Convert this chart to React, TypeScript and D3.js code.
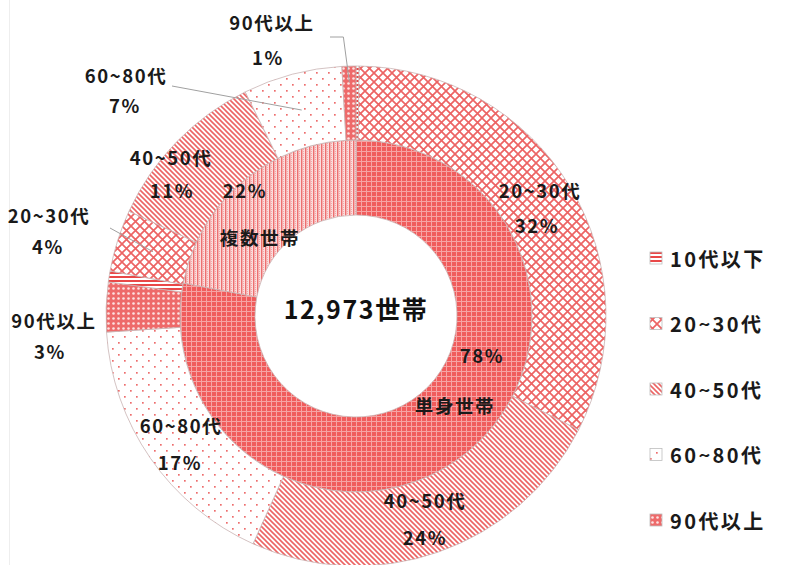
import React from "react";
import * as d3 from "d3";

// household composition (share of all households, %)
const householdTypes = ["単身世帯", "複数世帯"];
const householdShare = [78, 22];
const householdLabels = ["78%", "22%"];

// age breakdown of the head of household, per type (% of all households)
const ageGroups = ["10代以下", "20~30代", "40~50代", "60~80代", "90代以上"];
const singleByAge = [0.2, 32.3, 24.2, 17.2, 3.2];
const multiByAge = [0.7, 4.0, 10.8, 6.4, 0.9];
const singleAgeLabels = ["", "32%", "24%", "17%", "3%"];
const multiAgeLabels = ["", "4%", "11%", "7%", "1%"];

const totalLabel = "12,973世帯";

const W = 785;
const H = 565;
const cx = 356;
const cy = 316;
const rHole = 101;
const rMid = 176;
const rOuter = 250;

const RED = "#e94848";
const FONT = "'Noto Sans CJK JP', 'Noto Sans', sans-serif";
const agePatterns = ["p-teen", "p-2030", "p-4050", "p-6080", "p-90"];
const typePatterns = ["p-single", "p-multi"];

// where Excel put the outer labels (name line / percent line)
const outerLabelPos: Record<string, [number, number, number, number]> = {
  "0-1": [540, 190, 537, 225],
  "0-2": [425, 500, 425, 537],
  "0-3": [181, 425, 180, 462],
  "0-4": [54, 320, 50, 351],
  "1-1": [49, 215, 48, 246],
  "1-2": [171, 157, 172, 190],
  "1-3": [126, 75, 125, 105],
  "1-4": [272, 22, 268, 57],
};
const innerLabelPos = [
  [482, 355, 455, 405],
  [245, 190, 260, 237],
];

function Patterns() {
  return (
    <defs>
      <pattern id="p-teen" width="4" height="4" patternUnits="userSpaceOnUse">
        <rect width="4" height="4" fill="#fff" />
        <rect y="0" width="4" height="2" fill={RED} />
      </pattern>
      <pattern id="p-2030" width="9" height="9" patternUnits="userSpaceOnUse">
        <rect width="9" height="9" fill="#fff" />
        <path d="M0,0L9,9M9,0L0,9" stroke={RED} strokeWidth="1.7" opacity="0.85" />
      </pattern>
      <pattern id="p-4050" width="5" height="5" patternUnits="userSpaceOnUse">
        <rect width="5" height="5" fill="#fff" />
        <path d="M0,0L5,5M-1,4L1,6M4,-1L6,1" stroke={RED} strokeWidth="1.6" opacity="0.85" />
      </pattern>
      <pattern id="p-6080" width="12" height="12" patternUnits="userSpaceOnUse">
        <rect width="12" height="12" fill="#fff" />
        <rect x="2" y="2" width="1.7" height="1.7" fill={RED} opacity="0.8" />
        <rect x="8" y="8" width="1.7" height="1.7" fill={RED} opacity="0.8" />
      </pattern>
      <pattern id="p-90" width="5" height="5" patternUnits="userSpaceOnUse">
        <rect width="5" height="5" fill="#ee6a6a" />
        <circle cx="2.5" cy="2.5" r="1.3" fill="#fde2e2" />
      </pattern>
      <pattern id="p-single" width="5" height="5" patternUnits="userSpaceOnUse">
        <rect width="5" height="5" fill="#f05c5c" />
        <rect width="5" height="1" fill="#f6a3a3" />
        <rect width="1" height="5" fill="#f6a3a3" />
      </pattern>
      <pattern id="p-multi" width="4" height="4" patternUnits="userSpaceOnUse">
        <rect width="4" height="4" fill="#fbdcdc" />
        <rect x="1" width="1.4" height="4" fill="#ec6f6f" />
        <rect x="3" y="1" width="1" height="1" fill="#f3a8a8" />
        <rect x="3" y="3" width="1" height="1" fill="#f3a8a8" />
      </pattern>
    </defs>
  );
}

export default function App() {
  const outerData = [
    ...singleByAge.map((v, i) => ({ group: 0, age: i, value: v, label: singleAgeLabels[i] })),
    ...multiByAge.map((v, i) => ({ group: 1, age: i, value: v, label: multiAgeLabels[i] })),
  ];
  const innerData = householdShare.map((v, i) => ({ group: i, value: v }));

  const pie = d3
    .pie<{ value: number }>()
    .sort(null)
    .value((d) => d.value);
  const outerArcs = pie(outerData) as d3.PieArcDatum<(typeof outerData)[number]>[];
  const innerArcs = pie(innerData) as d3.PieArcDatum<(typeof innerData)[number]>[];

  const outerArc = d3.arc<d3.PieArcDatum<any>>().innerRadius(rMid).outerRadius(rOuter);
  const innerArc = d3.arc<d3.PieArcDatum<any>>().innerRadius(rHole).outerRadius(rMid);
  const edgeArc = d3.arc<d3.PieArcDatum<any>>().innerRadius(rOuter - 16).outerRadius(rOuter - 16);

  const labelStyle = {
    fontFamily: FONT,
    fontWeight: 700,
    fontSize: 18.5,
    letterSpacing: 1.6,
    fill: "#1a1a1a",
  } as const;

  // leader lines for the labels that sit outside the ring
  const leaders: { key: string; pts: [number, number][] }[] = [];
  outerArcs.forEach((a) => {
    const key = `${a.data.group}-${a.data.age}`;
    const c = outerArc.centroid(a);
    const e = edgeArc.centroid(a);
    if (key === "1-4") leaders.push({ key, pts: [[330, 37], [cx + e[0] - 6, 37], [cx + e[0], cy + e[1]]] });
    if (key === "1-3") leaders.push({ key, pts: [[172, 86], [cx + c[0], cy + c[1]]] });
    if (key === "1-1") leaders.push({ key, pts: [[110, 228], [cx + c[0], cy + c[1]]] });
  });

  return (
    <svg width={W} height={H} style={{ position: "absolute", left: 0, top: 0, background: "#fff" }}>
      <Patterns />
      <line x1={9.5} y1={0} x2={9.5} y2={H} stroke="#eeeeee" />
      <g transform={`translate(${cx},${cy})`}>
        {innerArcs.map((a, i) => (
          <path key={`in${i}`} d={innerArc(a) || ""} fill={`url(#${typePatterns[i]})`} stroke="#c9b4b4" strokeWidth={0.8} />
        ))}
        {outerArcs.map((a, i) => (
          <path
            key={`out${i}`}
            d={outerArc(a) || ""}
            fill={`url(#${agePatterns[a.data.age]})`}
            stroke="#c9b4b4"
            strokeWidth={0.8}
          />
        ))}
      </g>

      {leaders.map((l) => (
        <polyline key={l.key} points={l.pts.map((p) => p.join(",")).join(" ")} fill="none" stroke="#a0a0a0" strokeWidth={1} />
      ))}

      {outerArcs
        .filter((a) => a.data.label)
        .map((a) => {
          const key = `${a.data.group}-${a.data.age}`;
          const p = outerLabelPos[key];
          return (
            <g key={`lab${key}`} style={labelStyle}>
              <text x={p[0]} y={p[1]} textAnchor="middle" dominantBaseline="central">
                {ageGroups[a.data.age]}
              </text>
              <text x={p[2]} y={p[3]} textAnchor="middle" dominantBaseline="central">
                {a.data.label}
              </text>
            </g>
          );
        })}

      {innerArcs.map((a, i) => {
        const p = innerLabelPos[i];
        return (
          <g key={`il${i}`} style={labelStyle}>
            <text x={p[0]} y={p[1]} textAnchor="middle" dominantBaseline="central">
              {householdLabels[i]}
            </text>
            <text x={p[2]} y={p[3]} textAnchor="middle" dominantBaseline="central">
              {householdTypes[i]}
            </text>
          </g>
        );
      })}

      <text
        x={cx}
        y={308}
        textAnchor="middle"
        dominantBaseline="central"
        style={{ fontFamily: FONT, fontWeight: 700, fontSize: 25, letterSpacing: 1.6, fill: "#111" }}
      >
        {totalLabel}
      </text>

      <g>
        {ageGroups.map((g, i) => {
          const y = 258 + i * 65.5;
          return (
            <g key={g}>
              <rect x={650} y={y - 6} width={12} height={12} fill={`url(#${agePatterns[i]})`} stroke="#bdbdbd" strokeWidth={0.8} />
              <text x={670} y={y} dominantBaseline="central" style={{ ...labelStyle, fontSize: 20, letterSpacing: 2.4 }}>
                {g}
              </text>
            </g>
          );
        })}
      </g>
    </svg>
  );
}
